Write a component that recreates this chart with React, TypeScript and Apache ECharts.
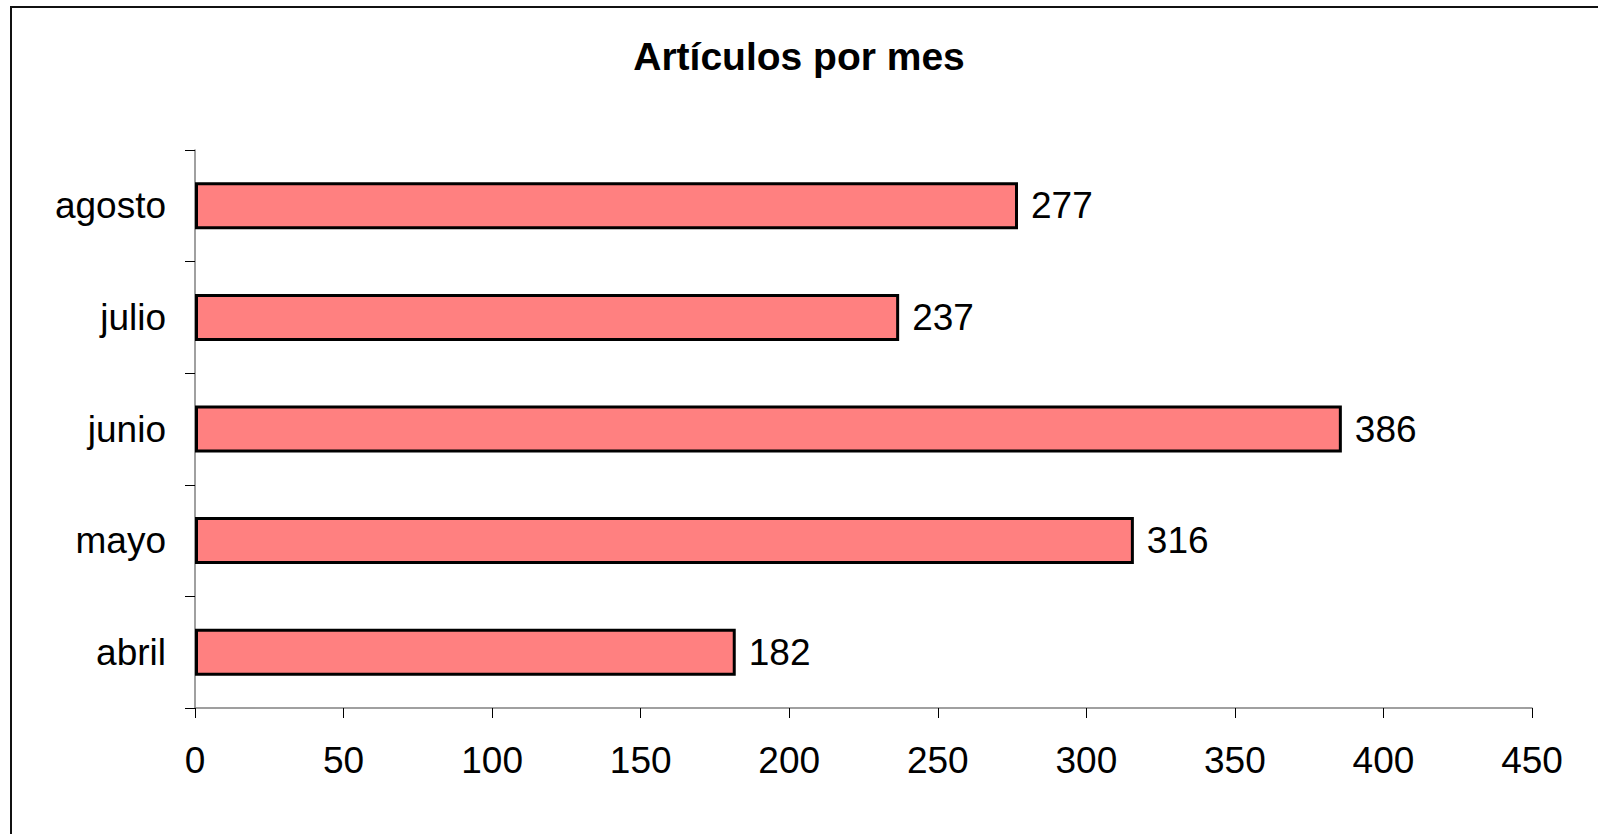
import React, { useEffect, useRef } from "react";
import * as echarts from "echarts";

const categories = ["abril", "mayo", "junio", "julio", "agosto"];
const values = [182, 316, 386, 237, 277];
const xTicks = { min: 0, max: 450, interval: 50 };
const titleText = "Artículos por mes";

const FONT = "'Liberation Sans', Arial, sans-serif";

export default function App() {
  const ref = useRef<HTMLDivElement>(null);
  useEffect(() => {
    if (!ref.current) return;
    const chart = echarts.init(ref.current, undefined, { renderer: "svg" });
    chart.setOption({
      animation: false,
      backgroundColor: "#ffffff",
      title: {
        text: titleText,
        left: "center",
        top: 37,
        padding: [0, 0, 0, 10],
        textStyle: { fontFamily: FONT, fontWeight: "bold", fontSize: 39, color: "#000" },
      },
      graphic: [
        {
          type: "rect",
          shape: { x: 11, y: 7, width: 1640, height: 900 },
          style: { fill: "none", stroke: "#111", lineWidth: 2 },
          silent: true,
        },
      ],
      grid: { left: 195, top: 150, right: 66, bottom: 126, containLabel: false },
      xAxis: {
        type: "value",
        min: xTicks.min,
        max: xTicks.max,
        interval: xTicks.interval,
        axisLine: { show: true, lineStyle: { color: "#808080", width: 1.5 } },
        axisTick: { show: true, length: 10, lineStyle: { color: "#000", width: 1 } },
        splitLine: { show: false },
        axisLabel: { fontFamily: FONT, fontSize: 37, color: "#000", margin: 34 },
      },
      yAxis: {
        type: "category",
        data: categories,
        axisLine: { show: true, lineStyle: { color: "#808080", width: 1.5 } },
        axisTick: { show: true, length: 10, lineStyle: { color: "#000", width: 1 } },
        axisLabel: { fontFamily: FONT, fontSize: 37, color: "#000", margin: 29 },
      },
      series: [
        {
          type: "bar",
          data: values,
          barWidth: 47,
          itemStyle: { color: "#FF8080", borderColor: "#000", borderWidth: 3 },
          label: {
            show: true,
            position: "right",
            distance: 13,
            fontFamily: FONT,
            fontSize: 37,
            color: "#000",
          },
        },
      ],
    });
    return () => chart.dispose();
  }, []);
  return (
    <div
      ref={ref}
      style={{ position: "absolute", left: 0, top: 0, width: 1598, height: 834 }}
    />
  );
}
